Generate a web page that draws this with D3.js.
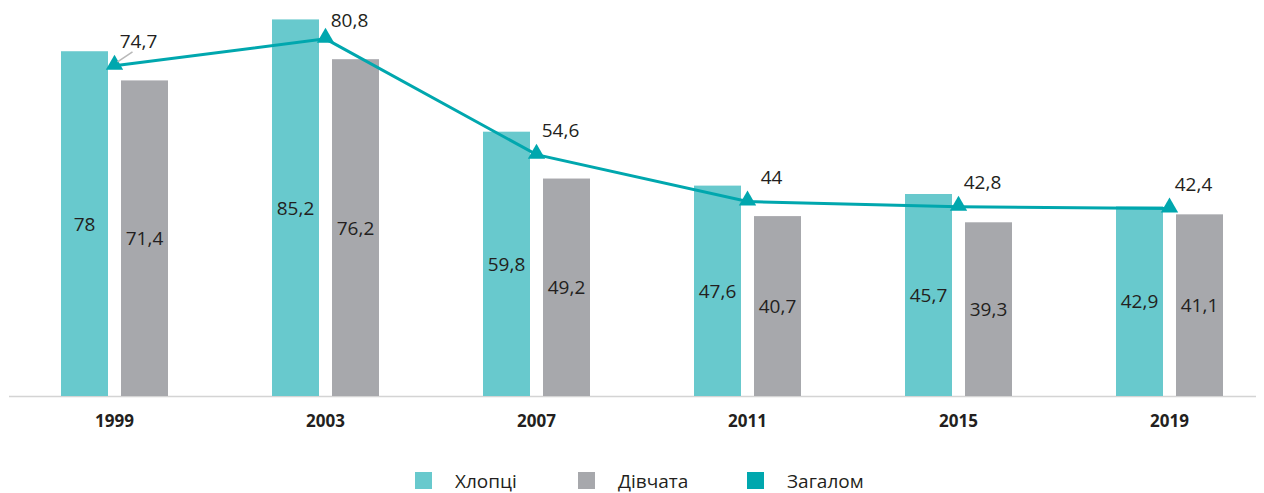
<!DOCTYPE html>
<html lang="uk">
  <head>
    <meta charset="UTF-8">
    <script src="https://cdn.jsdelivr.net/npm/d3@7"></script>
    <style>
      body { margin: 0; background: #fff; }
      text { font-family: 'Open Sans', 'Noto Sans', sans-serif; fill: #231f20; }
    </style>
    <title>Chart</title>
  </head>
  <body>
    <script>
      // Grouped bars (boys / girls) with the overall line on top

      const years = ['1999', '2003', '2007', '2011', '2015', '2019'];
      const boys = [78, 85.2, 59.8, 47.6, 45.7, 42.9];
      const girls = [71.4, 76.2, 49.2, 40.7, 39.3, 41.1];
      const total = [74.7, 80.8, 54.6, 44, 42.8, 42.4];
      const legendLabels = ['Хлопці', 'Дівчата', 'Загалом'];

      const w = 1264, h = 493;
      const base = 396;
      const colBoys = '#68c9cd', colGirls = '#a7a8ac', colLine = '#00a7ae';
      const fmt = d => String(d).replace('.', ',');

      const svg = d3.select('body').append('svg')
        .attr('width', w).attr('height', h);

      const x = d3.scaleBand().domain(years).range([9, 1275]);
      const xSub = d3.scaleBand().domain(['b', 'g']).range([52, 159]).paddingInner(13 / 60);
      const y = d3.scaleLinear().domain([0, 100]).range([base, base - 442]);

      // axis line
      svg.append('line')
        .attr('x1', 9).attr('x2', 1256)
        .attr('y1', base + 0.5).attr('y2', base + 0.5)
        .attr('stroke', '#d4d4d4').attr('stroke-width', 1.5);

      const series = [
        { key: 'b', values: boys, color: colBoys },
        { key: 'g', values: girls, color: colGirls }
      ];

      series.forEach(s => {
        svg.selectAll('rect.' + s.key)
          .data(s.values)
          .enter().append('rect')
          .attr('x', (d, i) => x(years[i]) + xSub(s.key))
          .attr('y', d => y(d))
          .attr('width', xSub.bandwidth())
          .attr('height', d => base - y(d))
          .attr('fill', s.color);

        svg.selectAll('text.v' + s.key)
          .data(s.values)
          .enter().append('text')
          .text(fmt)
          .attr('text-anchor', 'middle')
          .attr('x', (d, i) => x(years[i]) + xSub(s.key) + xSub.bandwidth() / 2)
          .attr('y', d => (y(d) + base) / 2 + 7)
          .attr('font-size', '19px');
      });

      // year labels
      svg.selectAll('text.year')
        .data(years)
        .enter().append('text')
        .text(d => d)
        .attr('text-anchor', 'middle')
        .attr('x', d => x(d) + x.bandwidth() / 2)
        .attr('y', 427)
        .attr('font-size', '17px')
        .attr('font-weight', 'bold');

      // total line
      const cx = i => x(years[i]) + x.bandwidth() / 2;
      const line = d3.line().x((d, i) => cx(i)).y(d => y(d));
      svg.append('path')
        .datum(total)
        .attr('d', line)
        .attr('fill', 'none')
        .attr('stroke', colLine)
        .attr('stroke-width', 3);

      const tri = d3.symbol().type(d3.symbolTriangle).size(130);
      svg.selectAll('path.m')
        .data(total)
        .enter().append('path')
        .attr('d', tri)
        .attr('transform', (d, i) => `translate(${cx(i)},${y(d) - 1})`)
        .attr('fill', colLine);

      // leader for the first label
      svg.append('line')
        .attr('x1', cx(0) + 3).attr('y1', y(total[0]) - 4)
        .attr('x2', cx(0) + 18).attr('y2', y(total[0]) - 14)
        .attr('stroke', '#b8b8b8').attr('stroke-width', 1.5);

      svg.selectAll('text.t')
        .data(total)
        .enter().append('text')
        .text(fmt)
        .attr('text-anchor', 'middle')
        .attr('x', (d, i) => cx(i) + 24)
        .attr('y', d => Math.max(y(d) - 18, 27))
        .attr('font-size', '19px');

      // legend
      const legendX = [415, 578, 747];
      const legendCols = [colBoys, colGirls, colLine];
      const lg = svg.selectAll('g.lg')
        .data(legendLabels)
        .enter().append('g')
        .attr('transform', (d, i) => `translate(${legendX[i]},472)`);
      lg.append('rect')
        .attr('width', 17).attr('height', 17)
        .attr('fill', (d, i) => legendCols[i]);
      lg.append('text')
        .text(d => d)
        .attr('x', 40).attr('y', 16)
        .attr('font-size', '19px');
    </script>
  </body>
</html>
